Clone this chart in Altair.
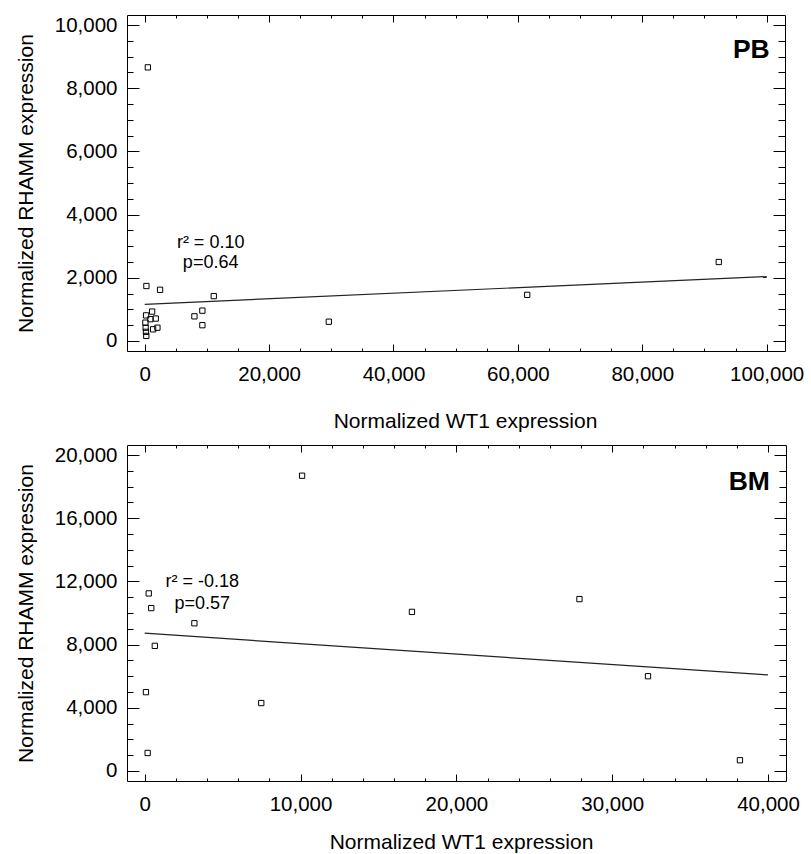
import altair as alt
import pandas as pd

FONT = "Liberation Sans"

# ---------------- PB panel data ----------------
pb_wt1 = [270, 2470, 11100, 1190, 220, 920, 1770, 110, 150, 200, 250, 1350, 2040,
          7990, 9270, 9270, 29600, 61500, 92300, 500]
pb_rhamm = [1740, 1620, 1420, 930, 810, 690, 710, 580, 420, 290, 160, 370, 420,
            780, 960, 500, 610, 1460, 2500, 8660]
pb_fit_x = [0, 100000]
pb_fit_y = [1160, 2040]
pb_ann_x = [10600, 10600]
pb_ann_y = [2955, 2300]
pb_ann_t = ["r\u00b2 = 0.10", "p=0.64"]
pb_label = "PB"
pb_label_x = 100500
pb_label_y = 8955
pb_x_major = [0, 20000, 40000, 60000, 80000, 100000]
pb_x_minor = [5000, 10000, 15000, 25000, 30000, 35000, 45000, 50000, 55000,
              65000, 70000, 75000, 85000, 90000, 95000]
pb_y_major = [0, 2000, 4000, 6000, 8000, 10000]
pb_y_minor = [500, 1000, 1500, 2500, 3000, 3500, 4500, 5000, 5500, 6500, 7000,
              7500, 8500, 9000, 9500]
pb_x_domain = [-2850, 102950]
pb_y_domain = [-317, 10317]

# ---------------- BM panel data ----------------
bm_wt1 = [10100, 260, 420, 3190, 650, 80, 7480, 190, 17150, 27900, 32300, 38200]
bm_rhamm = [18690, 11240, 10310, 9350, 7920, 4990, 4300, 1140, 10070, 10880, 6000, 680]
bm_fit_x = [0, 40000]
bm_fit_y = [8720, 6080]
bm_ann_x = [3700, 3700]
bm_ann_y = [11660, 10240]
bm_ann_t = ["r\u00b2 = -0.18", "p=0.57"]
bm_label = "BM"
bm_label_x = 40120
bm_label_y = 17800
bm_x_major = [0, 10000, 20000, 30000, 40000]
bm_x_minor = [2000, 4000, 6000, 8000, 12000, 14000, 16000, 18000, 22000, 24000,
              26000, 28000, 32000, 34000, 36000, 38000]
bm_y_major = [0, 4000, 8000, 12000, 16000, 20000]
bm_y_minor = [1000, 2000, 3000, 5000, 6000, 7000, 9000, 10000, 11000, 13000,
              14000, 15000, 17000, 18000, 19000]
bm_x_domain = [-1135, 41155]
bm_y_domain = [-634, 20634]

X_TITLE = "Normalized WT1 expression"
Y_TITLE = "Normalized RHAMM expression"


def panel(wt1, rhamm, fit_x, fit_y, ann_x, ann_y, ann_t, label, label_x, label_y,
          x_major, x_minor, y_major, y_minor, x_domain, y_domain,
          width, height, x_label_pad, x_title_pad, x_title_x):
    xs = alt.Scale(domain=x_domain, nice=False, zero=False)
    ys = alt.Scale(domain=y_domain, nice=False, zero=False)

    def X(axis):
        return alt.X("x:Q", scale=xs, axis=axis)

    def Y(axis):
        return alt.Y("y:Q", scale=ys, axis=axis)

    pts = pd.DataFrame({"x": wt1, "y": rhamm})
    fit = pd.DataFrame({"x": fit_x, "y": fit_y})
    ann = pd.DataFrame({"x": ann_x, "y": ann_y, "t": ann_t})
    lab = pd.DataFrame({"x": [label_x], "y": [label_y], "t": [label]})

    common = dict(domain=False, grid=False)
    # main axes: labels, titles, major ticks (inward)
    x_main = alt.Axis(orient="bottom", values=x_major, format=",d", tickSize=7, offset=-7,
                      labelPadding=x_label_pad, titlePadding=x_title_pad, title=X_TITLE,
                      titleX=x_title_x, labelFlush=False, labelOverlap=False, **common)
    y_main = alt.Axis(orient="left", values=y_major, format=",d", tickSize=12, offset=-12,
                      labelPadding=10, titlePadding=18, title=Y_TITLE,
                      labelOverlap=False, **common)
    x_bminor = alt.Axis(orient="bottom", values=x_minor, tickSize=3, offset=-3,
                        labels=False, title=None, **common)
    y_lminor = alt.Axis(orient="left", values=y_minor, tickSize=6, offset=-6,
                        labels=False, title=None, **common)
    x_tmajor = alt.Axis(orient="top", values=x_major, tickSize=7, offset=-7,
                        labels=False, title=None, **common)
    y_rmajor = alt.Axis(orient="right", values=y_major, tickSize=12, offset=-12,
                        labels=False, title=None, **common)
    x_tminor = alt.Axis(orient="top", values=x_minor, tickSize=3, offset=-3,
                        labels=False, title=None, **common)
    y_rminor = alt.Axis(orient="right", values=y_minor, tickSize=7, offset=-7,
                        labels=False, title=None, **common)

    points = alt.Chart(pts).mark_point(
        shape="square", filled=False, color="black", size=28, strokeWidth=1, opacity=1
    ).encode(x=X(x_main), y=Y(y_main))

    line = alt.Chart(fit).mark_line(color="#222222", strokeWidth=1.2).encode(
        x=X(x_bminor), y=Y(y_lminor))

    notes = alt.Chart(ann).mark_text(
        font=FONT, fontSize=18, align="center", baseline="alphabetic", color="black"
    ).encode(x=X(x_tmajor), y=Y(y_rmajor), text="t:N")

    tag = alt.Chart(lab).mark_text(
        font=FONT, fontSize=26.5, fontWeight="bold", align="right",
        baseline="alphabetic", color="black"
    ).encode(x=X(x_tminor), y=Y(y_rminor), text="t:N")

    return alt.layer(points, line, notes, tag).resolve_scale(
        x="shared", y="shared").resolve_axis(
        x="independent", y="independent").properties(width=width, height=height)


top = panel(pb_wt1, pb_rhamm, pb_fit_x, pb_fit_y, pb_ann_x, pb_ann_y, pb_ann_t,
            pb_label, pb_label_x, pb_label_y, pb_x_major, pb_x_minor, pb_y_major,
            pb_y_minor, pb_x_domain, pb_y_domain, 658, 336, 13, 26, 338)
bottom = panel(bm_wt1, bm_rhamm, bm_fit_x, bm_fit_y, bm_ann_x, bm_ann_y, bm_ann_t,
               bm_label, bm_label_x, bm_label_y, bm_x_major, bm_x_minor, bm_y_major,
               bm_y_minor, bm_x_domain, bm_y_domain, 659, 336, 13, 17, 334)

chart = alt.vconcat(top, bottom, spacing=12).properties(
    padding={"left": 14, "top": 14, "right": 5, "bottom": 0},
    background="white"
).configure_axis(
    labelFont=FONT, titleFont=FONT, labelFontSize=20.5, titleFontSize=21,
    titleFontWeight="normal", labelColor="black", titleColor="black",
    tickColor="black", tickWidth=1, grid=False, domain=False
).configure_view(stroke="black", strokeWidth=1)

chart.save("out.html", embed_options={"renderer": "svg", "actions": False})
